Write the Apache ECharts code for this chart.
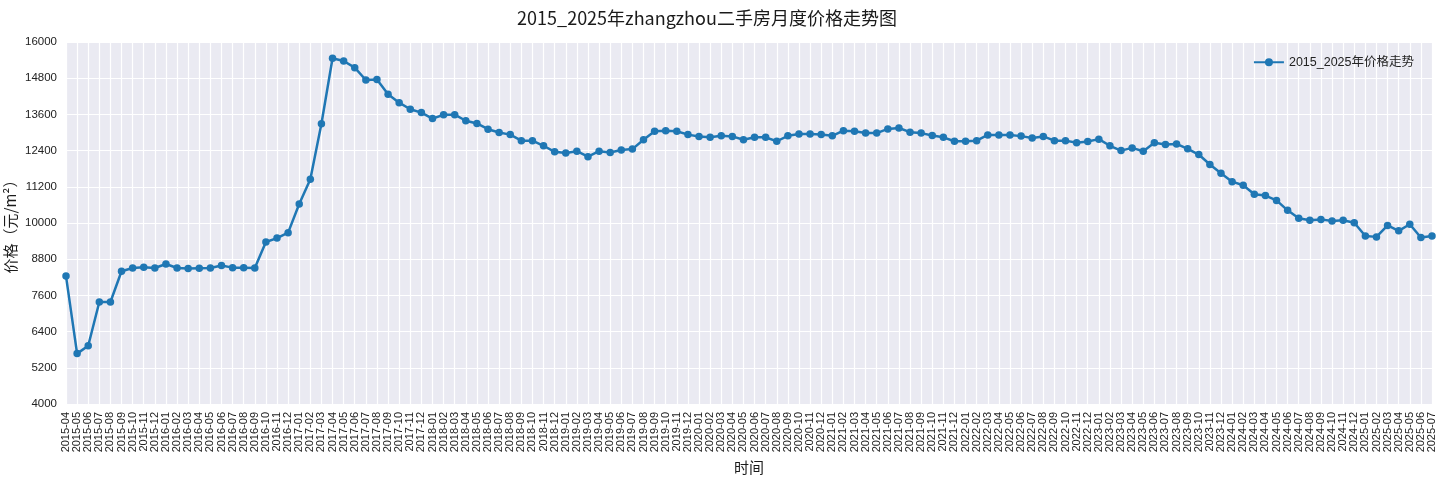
<!DOCTYPE html>
<html>
<head>
<meta charset="utf-8">
<script src="https://cdn.jsdelivr.net/npm/echarts@6/dist/echarts.min.js"></script>
<style>
html,body{margin:0;padding:0;background:#fff;}
#chart{width:1440px;height:480px;}
</style>
</head>
<body>
<div id="chart"></div>
<script>
var months = [
"2015-04","2015-05","2015-06","2015-07","2015-08","2015-09","2015-10","2015-11","2015-12",
"2016-01","2016-02","2016-03","2016-04","2016-05","2016-06","2016-07","2016-08","2016-09","2016-10","2016-11","2016-12",
"2017-01","2017-02","2017-03","2017-04","2017-05","2017-06","2017-07","2017-08","2017-09","2017-10","2017-11","2017-12",
"2018-01","2018-02","2018-03","2018-04","2018-05","2018-06","2018-07","2018-08","2018-09","2018-10","2018-11","2018-12",
"2019-01","2019-02","2019-03","2019-04","2019-05","2019-06","2019-07","2019-08","2019-09","2019-10","2019-11","2019-12",
"2020-01","2020-02","2020-03","2020-04","2020-05","2020-06","2020-07","2020-08","2020-09","2020-10","2020-11","2020-12",
"2021-01","2021-02","2021-03","2021-04","2021-05","2021-06","2021-07","2021-08","2021-09","2021-10","2021-11","2021-12",
"2022-01","2022-02","2022-03","2022-04","2022-05","2022-06","2022-07","2022-08","2022-09","2022-10","2022-11","2022-12",
"2023-01","2023-02","2023-03","2023-04","2023-05","2023-06","2023-07","2023-08","2023-09","2023-10","2023-11","2023-12",
"2024-01","2024-02","2024-03","2024-04","2024-05","2024-06","2024-07","2024-08","2024-09","2024-10","2024-11","2024-12",
"2025-01","2025-02","2025-03","2025-04","2025-05","2025-06","2025-07"
];

var prices = [
8240,5670,5930,7380,7380,8400,8510,8530,8510,
8640,8510,8490,8500,8510,8590,8520,8520,8510,9370,9500,9680,
10630,11450,13290,15460,15370,15150,14740,14760,14270,13990,13770,13660,
13460,13590,13590,13390,13300,13110,13000,12930,12730,12730,12560,12360,
12320,12380,12200,12380,12340,12420,12450,12760,13040,13060,13040,12930,
12870,12840,12890,12870,12760,12840,12840,12710,12890,12950,12950,12930,
12890,13060,13040,12980,12980,13120,13150,13010,12980,12900,12840,12710,
12710,12730,12920,12920,12920,12880,12820,12870,12730,12730,12660,12700,
12780,12560,12400,12490,12380,12660,12600,12620,12460,12270,11940,11650,
11370,11250,10950,10910,10750,10420,10160,10090,10120,10070,10090,10010,
9570,9540,9920,9740,9960,9520,9570
];

var yTicks = [4000,5200,6400,7600,8800,10000,11200,12400,13600,14800,16000];

var titleText = "2015_2025年zhangzhou二手房月度价格走势图";
var seriesName = "2015_2025年价格走势";
var xName = "时间";
var yName = "价格（元/m²）";

var fontFam = "'Liberation Sans','Noto Sans CJK SC',sans-serif";
var chart = echarts.init(document.getElementById('chart'), null, {renderer:'canvas'});
chart.setOption({
  animation:false,
  backgroundColor:'#ffffff',
  textStyle:{fontFamily:fontFam},
  title:{
    text:titleText,
    left:702, top:4, textAlign:'center',
    textStyle:{fontSize:18, fontWeight:'normal', color:'#1a1a1a', fontFamily:"'Noto Sans CJK SC',sans-serif"}
  },
  legend:{
    right:21, top:51,
    itemWidth:30, itemHeight:10, itemGap:10,
    textStyle:{fontSize:12.5, color:'#222', fontFamily:"'Liberation Sans','Noto Sans CJK SC',sans-serif"},
    data:[seriesName]
  },
  grid:{left:66, right:8, top:42, bottom:76, containLabel:false, outerBoundsMode:'none', show:true, backgroundColor:'#EAEAF2', borderWidth:0},
  xAxis:{
    type:'category',
    data:months,
    boundaryGap:false,
    name:xName,
    nameLocation:'middle',
    nameGap:56,
    nameMoveOverlap:false,
    nameTextStyle:{fontSize:15, color:'#1a1a1a', fontFamily:"'Noto Sans CJK SC',sans-serif"},
    axisLine:{show:false},
    axisTick:{show:false},
    axisLabel:{interval:0, rotate:90, fontSize:11, color:'#222', margin:8},
    splitLine:{show:true, interval:0, lineStyle:{color:'#ffffff', width:1.2}}
  },
  yAxis:{
    type:'value',
    min:4000, max:16000, interval:1200,
    name:yName,
    nameLocation:'middle',
    nameGap:48,
    nameMoveOverlap:false,
    nameTextStyle:{fontSize:15, color:'#1a1a1a', fontFamily:"'Noto Sans CJK SC',sans-serif"},
    axisLine:{show:false},
    axisTick:{show:false},
    axisLabel:{fontSize:11.5, color:'#222', margin:9,
      formatter:function(v){ return yTicks.indexOf(v) >= 0 ? String(v) : ''; }},
    splitLine:{show:true, lineStyle:{color:'#ffffff', width:1.2}}
  },
  series:[{
    name:seriesName,
    type:'line',
    data:prices,
    symbol:'circle',
    symbolSize:7.5,
    showAllSymbol:true,
    lineStyle:{color:'#1f77b4', width:2.5},
    itemStyle:{color:'#1f77b4'},
    z:3
  }]
});
</script>
</body>
</html>
